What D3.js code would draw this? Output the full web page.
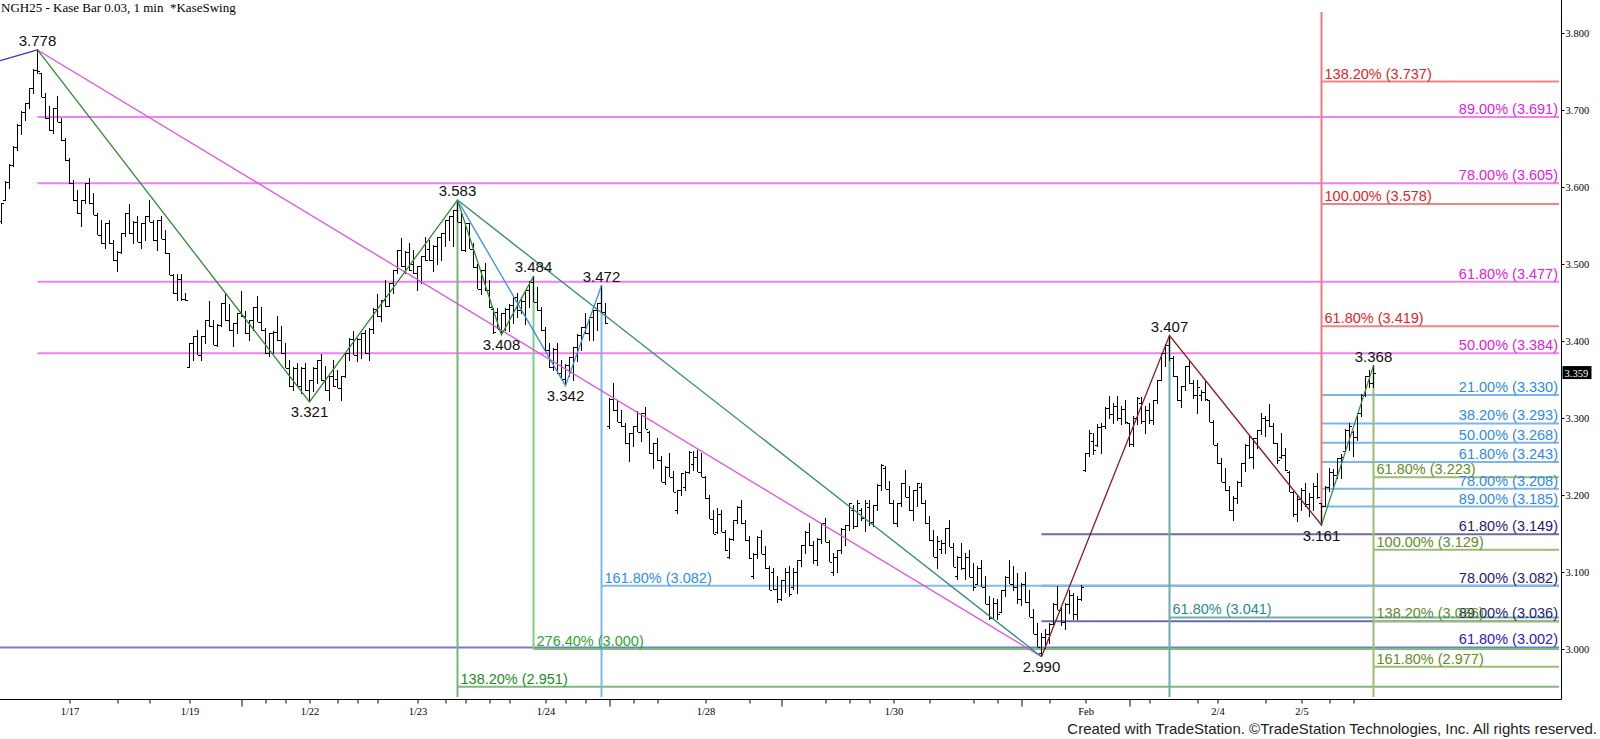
<!DOCTYPE html>
<html><head><meta charset="utf-8">
<script src="https://cdn.jsdelivr.net/npm/d3@7"></script>
<style>
html,body{margin:0;padding:0;background:#fff;}
svg{display:block;}
</style></head><body>
<svg id="c" width="1600" height="739"></svg>
<script>
// ---------------- DATA ----------------
const highs=[
3.579,3.607,3.629,3.652,3.681,3.698,3.709,3.728,3.752,3.778,
3.748,3.722,3.704,3.702,3.717,3.689,3.663,3.637,3.609,3.596,
3.583,3.605,3.611,3.592,3.566,3.557,3.553,3.557,3.531,3.516,
3.540,3.566,3.577,3.555,3.562,3.553,3.562,3.583,3.557,3.557,
3.562,3.544,3.514,3.486,3.486,3.486,3.462,3.397,3.406,3.414,
3.406,3.427,3.451,3.427,3.421,3.449,3.460,3.447,3.423,3.436,
3.464,3.438,3.427,3.444,3.458,3.444,3.416,3.410,3.412,3.432,
3.419,3.397,3.375,3.365,3.371,3.365,3.371,3.349,3.365,3.375,
3.382,3.367,3.354,3.375,3.362,3.354,3.384,3.403,3.412,3.403,
3.410,3.414,3.416,3.442,3.460,3.453,3.479,3.475,3.492,3.518,
3.533,3.516,3.527,3.518,3.497,3.510,3.535,3.531,3.524,3.535,
3.540,3.557,3.562,3.570,3.583,3.566,3.553,3.553,3.527,3.499,
3.492,3.501,3.479,3.442,3.442,3.436,3.442,3.447,3.457,3.462,
3.457,3.466,3.477,3.484,3.470,3.444,3.418,3.397,3.390,3.397,
3.375,3.369,3.379,3.392,3.408,3.418,3.436,3.431,3.440,3.449,
3.472,3.449,3.325,3.345,3.323,3.310,3.293,3.280,3.289,3.308,
3.306,3.314,3.282,3.267,3.273,3.250,3.237,3.254,3.230,3.206,
3.228,3.230,3.256,3.256,3.258,3.254,3.224,3.200,3.180,3.183,
3.180,3.154,3.143,3.167,3.185,3.193,3.167,3.146,3.124,3.146,
3.154,3.133,3.107,3.105,3.094,3.089,3.105,3.107,3.105,3.115,
3.135,3.152,3.163,3.139,3.143,3.163,3.169,3.141,3.124,3.128,
3.156,3.161,3.189,3.187,3.193,3.183,3.193,3.193,3.187,3.213,
3.239,3.237,3.217,3.193,3.189,3.215,3.232,3.211,3.206,3.215,
3.215,3.193,3.172,3.154,3.146,3.141,3.157,3.167,3.137,3.120,
3.137,3.124,3.128,3.111,3.107,3.115,3.094,3.068,3.066,3.064,
3.076,3.094,3.115,3.107,3.098,3.085,3.100,3.076,3.051,3.033,
3.020,3.025,3.033,3.059,3.081,3.055,3.059,3.076,3.072,3.068,
3.083,3.254,3.284,3.280,3.291,3.293,3.313,3.328,3.319,3.328,
3.315,3.323,3.293,3.302,3.326,3.326,3.315,3.319,3.323,3.349,
3.384,3.395,3.407,3.380,3.354,3.341,3.367,3.375,3.349,3.349,
3.336,3.349,3.323,3.297,3.267,3.248,3.235,3.211,3.198,3.217,
3.241,3.265,3.276,3.274,3.284,3.306,3.302,3.317,3.293,3.267,
3.280,3.261,3.230,3.204,3.198,3.209,3.215,3.202,3.215,3.228,
3.189,3.211,3.235,3.233,3.248,3.253,3.285,3.293,3.282,3.306,
3.330,3.354,3.362,3.368];
const lows=[
3.553,3.583,3.598,3.626,3.648,3.668,3.687,3.702,3.722,3.748,
3.717,3.689,3.674,3.670,3.685,3.661,3.635,3.605,3.583,3.566,
3.549,3.579,3.579,3.564,3.538,3.527,3.520,3.527,3.505,3.490,
3.514,3.536,3.540,3.527,3.529,3.520,3.531,3.555,3.531,3.518,
3.533,3.514,3.486,3.462,3.453,3.453,3.453,3.365,3.375,3.382,
3.375,3.397,3.419,3.395,3.393,3.419,3.427,3.414,3.393,3.410,
3.432,3.410,3.401,3.414,3.425,3.414,3.384,3.380,3.384,3.401,
3.384,3.365,3.341,3.336,3.341,3.332,3.336,3.321,3.334,3.345,
3.349,3.336,3.323,3.341,3.339,3.323,3.352,3.375,3.382,3.373,
3.377,3.384,3.375,3.410,3.432,3.425,3.445,3.445,3.462,3.488,
3.497,3.488,3.492,3.488,3.466,3.475,3.505,3.505,3.490,3.499,
3.505,3.523,3.531,3.523,3.555,3.518,3.516,3.520,3.496,3.468,
3.460,3.466,3.444,3.410,3.416,3.408,3.414,3.412,3.423,3.431,
3.436,3.421,3.444,3.451,3.440,3.414,3.388,3.366,3.362,3.358,
3.351,3.342,3.354,3.349,3.373,3.388,3.410,3.401,3.401,3.414,
3.438,3.423,3.286,3.310,3.295,3.289,3.267,3.243,3.263,3.282,
3.269,3.286,3.254,3.234,3.245,3.217,3.213,3.224,3.204,3.176,
3.200,3.206,3.228,3.232,3.230,3.224,3.196,3.169,3.150,3.150,
3.152,3.128,3.117,3.141,3.163,3.163,3.141,3.118,3.092,3.118,
3.124,3.105,3.077,3.077,3.061,3.063,3.074,3.068,3.077,3.072,
3.107,3.124,3.135,3.111,3.109,3.137,3.139,3.113,3.096,3.100,
3.124,3.135,3.154,3.156,3.159,3.167,3.152,3.161,3.159,3.180,
3.206,3.208,3.189,3.163,3.159,3.185,3.198,3.180,3.167,3.185,
3.189,3.163,3.141,3.120,3.105,3.124,3.124,3.133,3.107,3.090,
3.103,3.090,3.094,3.076,3.085,3.081,3.059,3.038,3.038,3.038,
3.048,3.068,3.085,3.076,3.059,3.057,3.061,3.042,3.020,3.003,
2.990,3.001,3.007,3.033,3.051,3.031,3.025,3.046,3.038,3.038,
3.063,3.230,3.250,3.252,3.263,3.254,3.287,3.299,3.293,3.297,
3.291,3.293,3.263,3.263,3.291,3.293,3.280,3.293,3.291,3.319,
3.349,3.367,3.375,3.354,3.323,3.313,3.336,3.345,3.325,3.306,
3.323,3.323,3.295,3.265,3.241,3.217,3.206,3.180,3.167,3.189,
3.211,3.230,3.248,3.235,3.261,3.278,3.276,3.289,3.267,3.241,
3.248,3.232,3.204,3.172,3.165,3.180,3.185,3.172,3.180,3.196,
3.161,3.185,3.205,3.207,3.222,3.222,3.257,3.258,3.250,3.271,
3.302,3.328,3.339,3.340];
const opens=[
3.556,3.583,3.607,3.629,3.652,3.681,3.698,3.709,3.728,3.752,
3.748,3.717,3.689,3.674,3.702,3.685,3.661,3.635,3.605,3.583,
3.566,3.583,3.605,3.579,3.564,3.538,3.527,3.553,3.527,3.505,
3.516,3.540,3.566,3.540,3.555,3.529,3.553,3.562,3.555,3.531,
3.557,3.533,3.514,3.486,3.462,3.480,3.455,3.366,3.397,3.406,
3.382,3.406,3.427,3.419,3.395,3.421,3.449,3.427,3.414,3.423,
3.436,3.432,3.410,3.427,3.444,3.425,3.414,3.384,3.410,3.412,
3.401,3.384,3.365,3.341,3.365,3.341,3.365,3.336,3.349,3.365,
3.375,3.349,3.336,3.354,3.350,3.339,3.354,3.384,3.403,3.382,
3.403,3.410,3.384,3.416,3.442,3.432,3.453,3.445,3.475,3.492,
3.518,3.497,3.516,3.500,3.488,3.497,3.510,3.520,3.505,3.524,
3.535,3.540,3.557,3.562,3.570,3.555,3.518,3.553,3.520,3.496,
3.468,3.492,3.466,3.442,3.438,3.416,3.436,3.442,3.447,3.457,
3.440,3.452,3.466,3.477,3.451,3.440,3.414,3.388,3.366,3.390,
3.358,3.351,3.369,3.379,3.392,3.408,3.418,3.410,3.431,3.440,
3.449,3.438,3.290,3.325,3.310,3.295,3.289,3.267,3.280,3.289,
3.282,3.306,3.282,3.254,3.267,3.245,3.217,3.237,3.224,3.180,
3.206,3.210,3.230,3.240,3.250,3.230,3.224,3.196,3.169,3.152,
3.175,3.152,3.120,3.143,3.167,3.185,3.163,3.141,3.095,3.124,
3.146,3.124,3.105,3.100,3.078,3.065,3.089,3.100,3.080,3.100,
3.115,3.135,3.152,3.135,3.115,3.143,3.163,3.139,3.100,3.120,
3.128,3.156,3.161,3.180,3.160,3.180,3.170,3.185,3.165,3.187,
3.213,3.235,3.208,3.189,3.163,3.189,3.215,3.198,3.180,3.206,
3.210,3.189,3.163,3.141,3.120,3.130,3.138,3.157,3.133,3.095,
3.120,3.105,3.120,3.094,3.085,3.105,3.081,3.059,3.040,3.060,
3.048,3.076,3.094,3.085,3.080,3.065,3.085,3.061,3.042,3.020,
2.995,3.015,3.020,3.033,3.059,3.051,3.035,3.059,3.070,3.045,
3.065,3.232,3.254,3.270,3.265,3.288,3.290,3.313,3.305,3.315,
3.300,3.312,3.293,3.266,3.300,3.320,3.296,3.310,3.298,3.323,
3.349,3.384,3.395,3.378,3.354,3.323,3.341,3.367,3.345,3.330,
3.330,3.334,3.323,3.295,3.265,3.241,3.217,3.206,3.180,3.196,
3.217,3.241,3.265,3.250,3.274,3.284,3.300,3.298,3.290,3.267,
3.250,3.252,3.230,3.204,3.175,3.195,3.206,3.188,3.198,3.212,
3.189,3.186,3.211,3.230,3.226,3.248,3.257,3.285,3.282,3.275,
3.306,3.330,3.354,3.345];
const closes=[
3.579,3.607,3.629,3.652,3.681,3.698,3.709,3.728,3.752,3.750,
3.717,3.689,3.674,3.702,3.685,3.661,3.635,3.605,3.583,3.566,
3.583,3.605,3.579,3.564,3.538,3.527,3.553,3.527,3.505,3.516,
3.540,3.566,3.540,3.555,3.529,3.553,3.562,3.555,3.531,3.557,
3.533,3.514,3.486,3.462,3.480,3.455,3.453,3.397,3.406,3.382,
3.406,3.427,3.419,3.395,3.421,3.449,3.427,3.414,3.423,3.436,
3.432,3.410,3.427,3.444,3.425,3.414,3.384,3.410,3.412,3.401,
3.384,3.365,3.341,3.365,3.341,3.365,3.336,3.349,3.365,3.375,
3.349,3.336,3.354,3.341,3.339,3.354,3.384,3.403,3.382,3.403,
3.410,3.384,3.416,3.442,3.432,3.453,3.445,3.475,3.492,3.518,
3.497,3.516,3.492,3.488,3.497,3.510,3.505,3.505,3.524,3.535,
3.540,3.557,3.562,3.570,3.555,3.518,3.553,3.520,3.496,3.468,
3.492,3.466,3.444,3.412,3.416,3.436,3.442,3.447,3.457,3.440,
3.452,3.466,3.477,3.451,3.440,3.414,3.388,3.366,3.390,3.358,
3.351,3.369,3.379,3.392,3.408,3.418,3.410,3.431,3.440,3.449,
3.438,3.423,3.325,3.310,3.295,3.289,3.267,3.280,3.289,3.282,
3.306,3.286,3.254,3.267,3.245,3.217,3.237,3.224,3.204,3.206,
3.228,3.230,3.256,3.250,3.230,3.224,3.196,3.169,3.150,3.175,
3.152,3.128,3.143,3.167,3.185,3.163,3.141,3.118,3.124,3.146,
3.124,3.105,3.077,3.078,3.065,3.089,3.100,3.072,3.100,3.115,
3.135,3.152,3.135,3.115,3.143,3.163,3.139,3.113,3.120,3.128,
3.156,3.161,3.189,3.160,3.190,3.170,3.190,3.165,3.187,3.213,
3.239,3.208,3.189,3.163,3.189,3.215,3.198,3.180,3.206,3.215,
3.189,3.163,3.141,3.120,3.140,3.138,3.157,3.133,3.107,3.120,
3.105,3.120,3.094,3.080,3.105,3.081,3.059,3.040,3.060,3.045,
3.076,3.094,3.085,3.080,3.065,3.085,3.061,3.042,3.020,3.003,
3.015,3.020,3.033,3.059,3.051,3.035,3.059,3.070,3.045,3.065,
3.080,3.254,3.280,3.258,3.288,3.290,3.313,3.305,3.315,3.300,
3.312,3.295,3.266,3.300,3.326,3.296,3.310,3.298,3.323,3.349,
3.384,3.395,3.378,3.354,3.323,3.341,3.367,3.345,3.330,3.340,
3.334,3.325,3.295,3.265,3.241,3.217,3.206,3.180,3.196,3.217,
3.241,3.265,3.250,3.274,3.284,3.300,3.298,3.290,3.267,3.245,
3.252,3.232,3.204,3.175,3.195,3.206,3.188,3.198,3.212,3.198,
3.186,3.211,3.230,3.226,3.248,3.250,3.285,3.290,3.275,3.306,
3.330,3.354,3.345,3.359];

// bar-index positions of the date labels and minor ticks
const dateTickIdx=[17,47,77,104,136,176,223,271,304,325];
const dateLabels=["1/17","1/19","1/22","1/23","1/24","1/28","1/30","Feb","2/4","2/5"];
const minorTickIdx=[29,37,66,71,84,89,94,111,116,122,127,141,146,158,164,187,206,212,217,232,243,249,262,287,299,316,332,338];
const longTickIdx=[60,152,195,255,282];
const priceTicks=[3.0,3.1,3.2,3.3,3.4,3.5,3.6,3.7,3.8];
const lastPrice=3.359;

// swing pivots (bar index, price, label side)
const pivotIdx=[9,77,114,125,133,141,150,260,292,330,343];
const pivotPrice=[3.778,3.321,3.583,3.408,3.484,3.342,3.472,2.990,3.407,3.161,3.368];
const pivotSide=["up","down","up","down","up","down","up","down","up","down","up"];

// swing lines: [bar index, price]
const swingPrior=[[-0.37,3.764],[9,3.778]];
const swingGreen=[[9,3.778],[77,3.321],[114,3.583],[125,3.408],[133,3.484]];
const swingBlue=[[114,3.583],[141,3.342],[150,3.472]];
const swingTeal=[[114,3.583],[260,2.990]];
const swingMagenta=[[9,3.778],[260,2.990]];
const swingRed=[[260,2.990],[292,3.407],[330,3.161]];
const swingLast=[[330,3.161],[343,3.368]];

// Fibonacci levels: start bar index, values, percentage labels
const magentaStart=9, magentaVals=[3.691,3.605,3.477,3.384], magentaPcts=["89.00%","78.00%","61.80%","50.00%"];
const redStart=330, redVals=[3.737,3.578,3.419], redPcts=["138.20%","100.00%","61.80%"];
const skyStart=330, skyVals=[3.330,3.293,3.268,3.243,3.208,3.185], skyPcts=["21.00%","38.20%","50.00%","61.80%","78.00%","89.00%"];
const oliveStart=343, oliveVals=[3.223,3.129,3.036,2.977], olivePcts=["61.80%","100.00%","138.20%","161.80%"];
const navyStart=260, navyVals=[3.149,3.082,3.036], navyPcts=["61.80%","78.00%","89.00%"];
const longStart=-0.37, longVals=[3.002], longPcts=["61.80%"];
const tealStart=292, tealVals=[3.041], tealPcts=["61.80%"];
const greenAStart=133, greenAVals=[3.000], greenAPcts=["276.40%"];
const greenBStart=114, greenBVals=[2.951], greenBPcts=["138.20%"];
const lblueStart=150, lblueVals=[3.082], lbluePcts=["161.80%"];

// ---------------- LAYOUT / STYLE ----------------
const svg=d3.select("#c");
const axisX=1561.5, axisY=699.5, lineEnd=1559, labelRight=1558, vBottom=697, redTop=12;
const xs=d3.scaleLinear().domain([0,343]).range([1.5,1373.5]);
const ys=d3.scaleLinear().domain([3.0,3.8]).range([649,33]);
const LBL="'Liberation Sans',Arial,sans-serif";
const SER="'Liberation Serif','Times New Roman',serif";
const fmt=d3.format(".3f");

const levelGroups=[
 {start:magentaStart,vals:magentaVals,pcts:magentaPcts,line:"#EE82EE",text:"#DD22DD",side:"right"},
 {start:redStart,vals:redVals,pcts:redPcts,line:"#F08484",text:"#DC2626",side:"left"},
 {start:skyStart,vals:skyVals,pcts:skyPcts,line:"#7DB7EA",text:"#2E8AE6",side:"right"},
 {start:navyStart,vals:navyVals,pcts:navyPcts,line:"#6B6BA8",text:"#1C1C70",side:"right"},
 {start:longStart,vals:longVals,pcts:longPcts,line:"#7A7AC8",text:"#2222CC",side:"right"},
 {start:tealStart,vals:tealVals,pcts:tealPcts,line:"#70B0B0",text:"#2A8C8C",side:"left"},
 {start:greenAStart,vals:greenAVals,pcts:greenAPcts,line:"#72C672",text:"#2DA52D",side:"left"},
 {start:greenBStart,vals:greenBVals,pcts:greenBPcts,line:"#7DBA7D",text:"#1F8A1F",side:"left"},
 {start:lblueStart,vals:lblueVals,pcts:lbluePcts,line:"#84BCEA",text:"#2F8FE8",side:"left"},
 {start:oliveStart,vals:oliveVals,pcts:olivePcts,line:"#9CBB74",text:"#5F8C23",side:"left"}
];

const gLines=svg.append("g");
levelGroups.forEach(gr=>{
  const x0=Math.max(0,xs(gr.start));
  gLines.selectAll(null).data(gr.vals).join("line")
    .attr("x1",x0).attr("x2",lineEnd)
    .attr("y1",d=>ys(d)).attr("y2",d=>ys(d))
    .attr("stroke",gr.line).attr("stroke-width",2);
});

// vertical projection lines
const verticals=[
 {i:114,p:3.583,to:vBottom,c:"#74B874"},
 {i:133,p:3.484,to:ys(3.000),c:"#7CCF7C"},
 {i:150,p:3.472,to:vBottom,c:"#7DB8EA"},
 {i:292,p:3.407,to:vBottom,c:"#6AACAC"},
 {i:330,p:3.161,to:redTop,c:"#F07A7A"},
 {i:343,p:3.368,to:vBottom,c:"#9CBB74"}
];
gLines.selectAll(null).data(verticals).join("line")
  .attr("x1",d=>xs(d.i)).attr("x2",d=>xs(d.i))
  .attr("y1",d=>ys(d.p)).attr("y2",d=>d.to)
  .attr("stroke",d=>d.c).attr("stroke-width",2);

// OHLC bars
const idx=d3.range(highs.length);
const gBars=svg.append("g").attr("stroke","#000").attr("stroke-width",1).attr("shape-rendering","crispEdges");
gBars.selectAll("line.hl").data(idx).join("line").attr("class","hl")
  .attr("x1",i=>xs(i)).attr("x2",i=>xs(i))
  .attr("y1",i=>ys(highs[i])-0.5).attr("y2",i=>ys(lows[i])+0.5);
gBars.selectAll("line.op").data(idx).join("line").attr("class","op")
  .attr("x1",i=>xs(i)-2.5).attr("x2",i=>xs(i))
  .attr("y1",i=>Math.round(ys(opens[i]))+0.5).attr("y2",i=>Math.round(ys(opens[i]))+0.5);
gBars.selectAll("line.cl").data(idx).join("line").attr("class","cl")
  .attr("x1",i=>xs(i)).attr("x2",i=>xs(i)+2.5)
  .attr("y1",i=>Math.round(ys(closes[i]))+0.5).attr("y2",i=>Math.round(ys(closes[i]))+0.5);

// swing lines
const lineGen=d3.line().x(d=>xs(d[0])).y(d=>ys(d[1]));
[[swingPrior,"#3535B8"],[swingMagenta,"#E050E0"],[swingTeal,"#2E8A7A"],[swingGreen,"#2E8B2E"],
 [swingBlue,"#3C8FE0"],[swingRed,"#8B1C1C"],[swingLast,"#3A9040"]].forEach(([pts,c])=>{
  svg.append("path").attr("d",lineGen(pts)).attr("fill","none").attr("stroke",c).attr("stroke-width",1.3);
});

// level labels
const gLbl=svg.append("g").style("font-family",LBL).style("font-size","14.5px");
levelGroups.forEach(gr=>{
  const x0=Math.max(0,xs(gr.start));
  gLbl.selectAll(null).data(gr.vals).join("text")
    .attr("x",gr.side==="right"?labelRight:x0+3)
    .attr("y",d=>ys(d)-3)
    .attr("text-anchor",gr.side==="right"?"end":"start")
    .attr("fill",gr.text)
    .text((d,k)=>gr.pcts[k]+" ("+fmt(d)+")");
});

// pivot labels
svg.append("g").style("font-family",LBL).style("font-size","15px").attr("fill","#111")
  .selectAll("text").data(pivotIdx).join("text")
  .attr("x",d=>xs(d)).attr("text-anchor","middle")
  .attr("y",(d,k)=>pivotSide[k]==="up"?ys(pivotPrice[k])-4:ys(pivotPrice[k])+15.5)
  .text((d,k)=>fmt(pivotPrice[k]));

// right price axis
const gy=svg.append("g").attr("transform",`translate(${axisX},0)`)
  .call(d3.axisRight(ys).tickValues(priceTicks).tickFormat(fmt).tickSize(3).tickPadding(1));
gy.select(".domain").remove();
gy.selectAll("text").style("font-family",SER).style("font-size","10.5px").attr("fill","#000");
gy.selectAll("line").attr("stroke","#000");
svg.append("line").attr("x1",axisX).attr("x2",axisX).attr("y1",0).attr("y2",axisY).attr("stroke","#000");

// last price marker
svg.append("rect").attr("x",axisX+1).attr("y",ys(lastPrice)-6.5).attr("width",29).attr("height",13).attr("fill","#000");
svg.append("text").attr("x",axisX+3).attr("y",ys(lastPrice)+4).attr("fill","#fff")
  .style("font-family",SER).style("font-size","10.5px").text(fmt(lastPrice));

// bottom date axis
svg.append("line").attr("x1",0).attr("x2",axisX).attr("y1",axisY).attr("y2",axisY).attr("stroke","#000");
const gx=svg.append("g").attr("transform",`translate(0,${axisY})`)
  .call(d3.axisBottom(xs).tickValues(dateTickIdx).tickFormat((d,k)=>dateLabels[k]).tickSize(4).tickPadding(4));
gx.select(".domain").remove();
gx.selectAll("text").style("font-family",SER).style("font-size","10.5px").attr("fill","#000");
const gm=svg.append("g").attr("transform",`translate(0,${axisY})`)
  .call(d3.axisBottom(xs).tickValues(minorTickIdx).tickFormat("").tickSize(4));
gm.select(".domain").remove();
const gl=svg.append("g").attr("transform",`translate(0,${axisY})`)
  .call(d3.axisBottom(xs).tickValues(longTickIdx).tickFormat("").tickSize(7));
gl.select(".domain").remove();

// title and credit
svg.append("text").attr("x",1).attr("y",12).attr("xml:space","preserve").style("white-space","pre")
  .style("font-family",SER).style("font-size","13px").attr("fill","#000")
  .text("NGH25 - Kase Bar 0.03, 1 min  *KaseSwing");
svg.append("text").attr("x",1597).attr("y",734).attr("text-anchor","end")
  .style("font-family",LBL).style("font-size","15px").attr("fill","#222")
  .text("Created with TradeStation. \u00A9TradeStation Technologies, Inc. All rights reserved.");
</script>
</body></html>
